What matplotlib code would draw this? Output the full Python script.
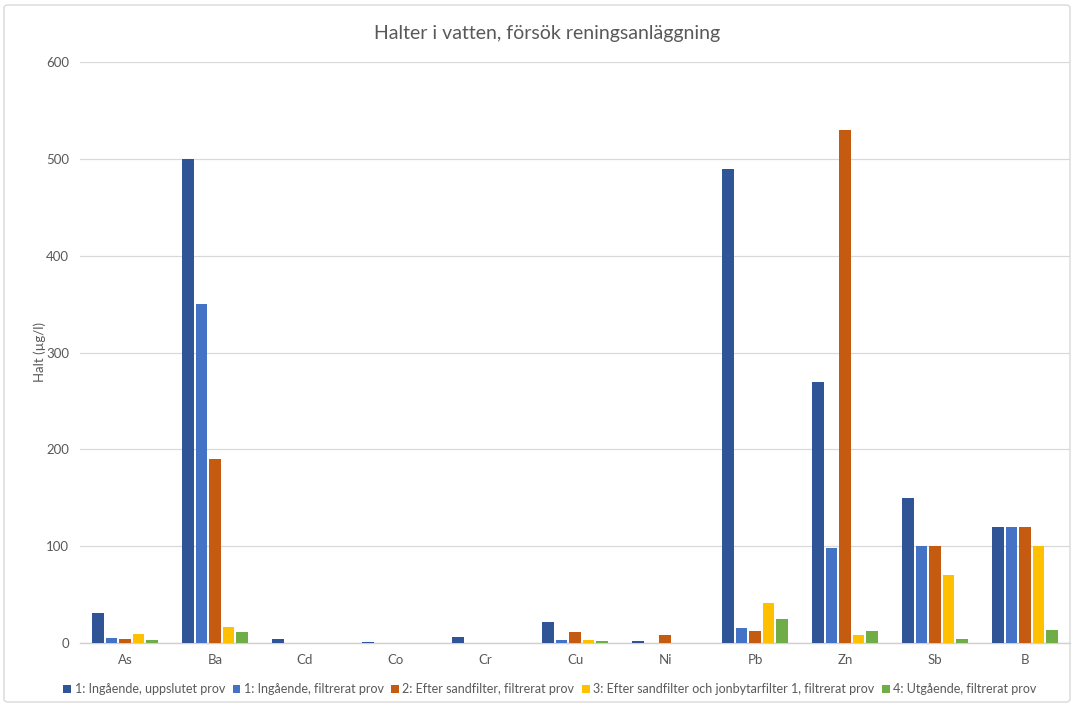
import numpy as np
import matplotlib
matplotlib.use('Agg')
import matplotlib.pyplot as plt
from matplotlib.patches import FancyBboxPatch

plt.rcParams['font.family'] = ['Lato', 'DejaVu Sans']

# Concentrations per element (µg/l)
elements = ['As', 'Ba', 'Cd', 'Co', 'Cr', 'Cu', 'Ni', 'Pb', 'Zn', 'Sb', 'B']
series_names = [
    '1: Ingående, uppslutet prov',
    '1: Ingående, filtrerat prov',
    '2: Efter sandfilter, filtrerat prov',
    '3: Efter sandfilter och jonbytarfilter 1, filtrerat prov',
    '4: Utgående, filtrerat prov',
]
ingaende_uppslutet = [31, 500, 4.4, 1, 6, 22, 2, 490, 270, 150, 120]
ingaende_filtrerat = [5.5, 350, 0, 0, 0, 2.7, 0, 16, 98, 100, 120]
efter_sandfilter = [4, 190, 0, 0, 0, 11.3, 8.6, 12, 530, 100, 120]
efter_jonbytare = [9.5, 17, 0, 0, 0, 3, 0, 41, 8, 70, 100]
utgaende = [3, 11, 0, 0, 0, 2.5, 0, 24.5, 12, 4.5, 13]

series = [ingaende_uppslutet, ingaende_filtrerat, efter_sandfilter,
          efter_jonbytare, utgaende]
colors = ['#2F5597', '#4472C4', '#C55A11', '#FFC000', '#70AD47']

text_color = '#595959'

fig = plt.figure(figsize=(10.74, 7.06), dpi=100)
ax = fig.add_axes([80 / 1074, 1 - 643 / 706, 990 / 1074, 581 / 706])

x = np.arange(len(elements))
step = 0.15
width = 0.133
for i, (vals, col, name) in enumerate(zip(series, colors, series_names)):
    ax.bar(x + (i - 2) * step, vals, width=width, color=col, label=name, zorder=3)

ax.set_xlim(-0.5, len(elements) - 0.5)
ax.set_ylim(0, 600)
ax.set_yticks(range(0, 601, 100))
ax.set_xticks(x)
ax.set_xticklabels(elements)
ax.tick_params(axis='both', length=0, colors=text_color, labelsize=9.5)
ax.tick_params(axis='x', pad=8)
ax.tick_params(axis='y', pad=8)
ax.grid(axis='y', color='#D9D9D9', linewidth=0.9, zorder=0)
for side in ['top', 'right', 'left']:
    ax.spines[side].set_visible(False)
ax.spines['bottom'].set_color('#D0D0D0')
ax.spines['bottom'].set_linewidth(1.0)

ax.set_ylabel('Halt (µg/l)', color=text_color, fontsize=9.5, labelpad=0)
fig.text(547 / 1074, 1 - 33 / 706, 'Halter i vatten, försök reningsanläggning',
         ha='center', va='center', fontsize=14, color=text_color)

fig.legend(loc='center', bbox_to_anchor=(550 / 1074, 1 - 689 / 706), ncol=5,
           frameon=False, fontsize=9, handlelength=0.6, handleheight=0.6,
           handletextpad=0.3, columnspacing=0.6, labelcolor=text_color)

# chart area border
fig.patches.append(FancyBboxPatch((4 / 1074, 4 / 706), 1066 / 1074, 697 / 706,
                                  boxstyle='round,pad=0,rounding_size=0.004',
                                  transform=fig.transFigure, fill=False,
                                  edgecolor='#D9D9D9', linewidth=1.0))

fig.savefig('out.png', dpi=100)
